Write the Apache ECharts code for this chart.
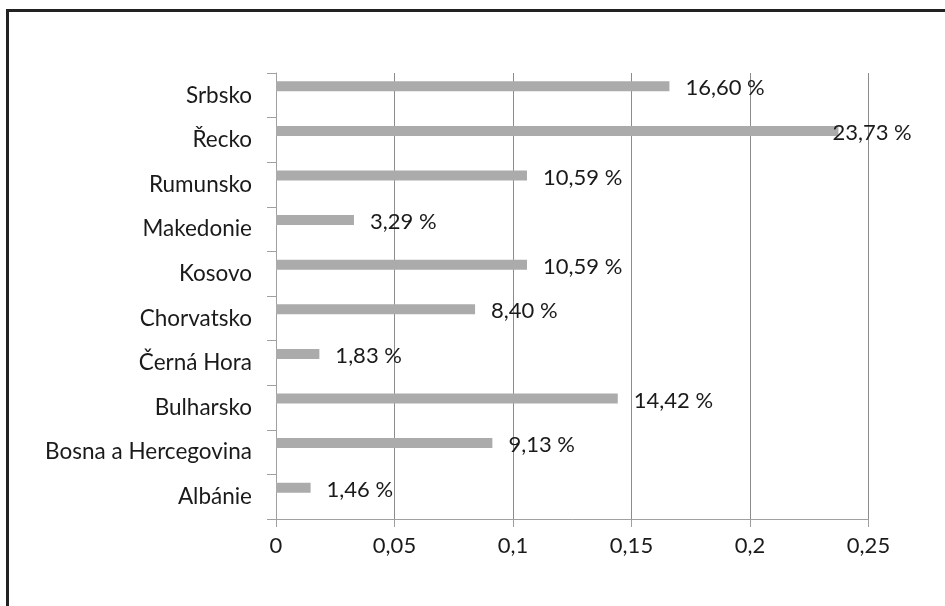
<!DOCTYPE html>
<html>
<head>
<meta charset="utf-8">
<script src="https://cdn.jsdelivr.net/npm/echarts@6/dist/echarts.min.js"></script>
<style>
  html, body { margin: 0; padding: 0; background: #fff; }
  #chart { width: 945px; height: 606px; }
</style>
</head>
<body>
<div id="chart"></div>
<script>
// categories bottom -> top (category axis starts at the bottom)
var countries = ['Albánie', 'Bosna a Hercegovina', 'Bulharsko', 'Černá Hora', 'Chorvatsko',
    'Kosovo', 'Makedonie', 'Rumunsko', 'Řecko', 'Srbsko'];
var shares = [0.0146, 0.0913, 0.1442, 0.0183, 0.0840, 0.1059, 0.0329, 0.1059, 0.2373, 0.1660];
var xTicks = [0, 0.05, 0.1, 0.15, 0.2, 0.25];

var font = 'Lato';

function pct(v) {
    return (v * 100).toFixed(2).replace('.', ',') + ' %';
}

var barData = shares.map(function (v) {
    // the widest label is pulled back left like in the original
    if (v > 0.2) {
        return {value: v, label: {offset: [-22, 2]}};
    }
    return v;
});

var option = {
    backgroundColor: '#fff',
    animation: false,
    graphic: [{
        type: 'rect',
        shape: {x: 7.5, y: 10.5, width: 1000, height: 1000},
        style: {fill: 'none', stroke: '#222', lineWidth: 3},
        silent: true
    }],
    grid: {
        left: 276,
        right: 76.5,
        top: 73,
        bottom: 87
    },
    xAxis: {
        type: 'value',
        min: xTicks[0],
        max: xTicks[xTicks.length - 1],
        interval: 0.05,
        axisLine: {show: true, lineStyle: {color: '#a0a0a0', width: 1}},
        axisTick: {show: true, length: 8, lineStyle: {color: '#a0a0a0'}},
        splitLine: {show: true, lineStyle: {color: '#8c8c8c', width: 1}},
        axisLabel: {
            margin: 16,
            color: '#1a1a1a',
            fontFamily: font,
            fontSize: 22,
            formatter: function (v) {
                return String(v).replace('.', ',');
            }
        }
    },
    yAxis: {
        type: 'category',
        data: countries,
        axisLine: {show: true, lineStyle: {color: '#a0a0a0', width: 1}},
        axisTick: {show: true, length: 9, lineStyle: {color: '#a0a0a0'}},
        splitLine: {show: false},
        axisLabel: {
            margin: 24,
            color: '#1a1a1a',
            fontFamily: font,
            fontSize: 22.5
        }
    },
    series: [
        {
            type: 'bar',
            data: barData,
            barWidth: 10,
            barGap: '80%',
            itemStyle: {color: '#ababab'},
            label: {
                show: true,
                position: 'right',
                distance: 16,
                offset: [0, 2],
                color: '#1a1a1a',
                fontFamily: font,
                fontSize: 22,
                formatter: function (p) {
                    return pct(p.value);
                }
            }
        },
        {
            // empty series that keeps the real bars in the upper half of each row
            type: 'bar',
            data: countries.map(function () { return '-'; }),
            barWidth: 10
        }
    ]
};

var mychart = echarts.init(document.getElementById('chart'));
mychart.setOption(option);
</script>
</body>
</html>
